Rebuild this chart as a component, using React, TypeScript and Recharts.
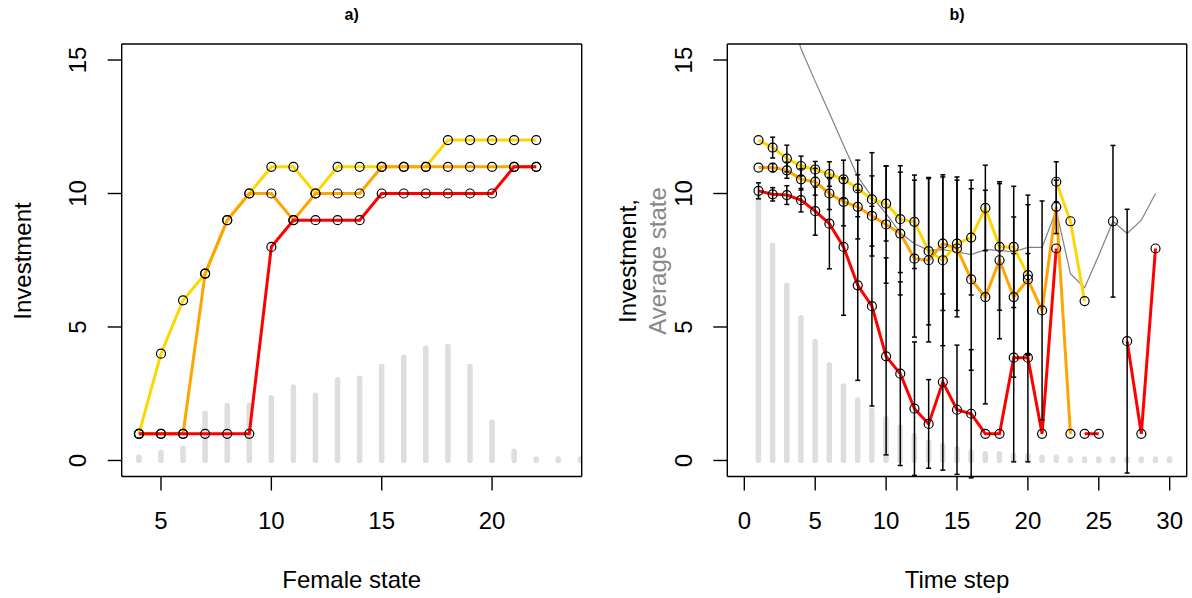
import React from 'react';
import { ComposedChart, Line, Bar, XAxis, YAxis, ErrorBar } from 'recharts';

const FONT = '"Liberation Sans", Arial, Helvetica, sans-serif';

// ---------- Panel a) data ----------
const femaleStates = [4, 5, 6, 7, 8, 9, 10, 11, 12, 13, 14, 15, 16, 17, 18, 19, 20, 21, 22, 23, 24];
const yellowA = [1, 4, 6, 7, 9, 10, 11, 11, 10, 11, 11, 11, 11, 11, 12, 12, 12, 12, 12, null, null];
const orangeA = [1, 1, 1, 7, 9, 10, 10, 9, 10, 10, 10, 11, 11, 11, 11, 11, 11, 11, 11, null, null];
const redA = [1, 1, 1, 1, 1, 1, 8, 9, 9, 9, 9, 10, 10, 10, 10, 10, 10, 11, 11, null, null];
const distA = [0.12, 0.31, 0.46, 1.77, 2.06, 2.06, 2.35, 2.75, 2.44, 3.02, 3.08, 3.52, 3.87, 4.21, 4.27, 3.52, 1.44, 0.35, 0.06, 0.06, 0.06];

// ---------- Panel b) data ----------
const timeSteps = [1, 2, 3, 4, 5, 6, 7, 8, 9, 10, 11, 12, 13, 14, 15, 16, 17, 18, 19, 20, 21, 22, 23, 24, 25, 26, 27, 28, 29, 30];
const yellowB = [12, 11.72, 11.31, 11.03, 10.9, 10.73, 10.53, 10.19, 9.78, 9.62, 9.04, 8.94, 7.84, 7.5, 8.12, 8.35, 9.46, 8.0, 8.0, 6.94, null, 10.44, 8.96, 5.97, null, 8.96, null, null, null, null];
const orangeB = [10.97, 10.97, 10.87, 10.53, 10.44, 10.0, 9.69, 9.5, 9.16, 8.84, 8.5, 7.56, 7.5, 8.12, 7.94, 6.78, 6.12, 7.5, 6.12, 6.78, 5.62, 9.5, 1, null, null, null, null, null, null, null];
const redB = [10.1, 9.97, 9.94, 9.75, 9.34, 8.87, 8.0, 6.56, 5.78, 3.9, 3.25, 1.94, 1.37, 2.94, 1.9, 1.75, 1, 1, 3.85, 3.85, 1, 7.94, null, 1, 1, null, 4.47, 1, 7.94, null];
const yellowErrB = [null, 0.39, 0.5, 0.37, 0.3, 0.46, 0.72, 1.06, 1.75, 1.4, 2.0, 1.75, 2.76, 3.2, 2.5, 2.15, 1.6, 2.37, 2.27, 3.0, null, 0.75, null, null, null, 2.84, null, null, null, null];
const orangeErrB = [null, 0.15, 0.3, 0.4, 0.5, 0.6, 0.9, 1.2, 1.5, 2.2, 2.3, 2.94, 3.06, 2.5, 2.56, 3.4, 4.0, 2.94, 3.0, 2.8, 4.1, 1.0, null, null, null, null, null, null, null, null];
const redErrB = [0.3, 0.25, 0.35, 0.44, 0.9, 1.69, 2.56, 3.56, 3.74, 3.69, 3.44, 2.5, 1.66, 3.3, 2.42, 2.4, null, null, 3.9, 3.9, null, null, null, null, null, null, 4.94, null, null, null];
const avgStateB = [21, 19, 17.06, 15.42, 14.2, 13.02, 11.81, 10.63, 9.87, 9.25, 8.53, 8.12, 7.87, 7.9, 7.81, 7.71, 7.9, 7.87, 7.81, 7.98, 7.98, 9.37, 7.0, 6.47, 7.69, 8.96, 8.5, 9.0, 10.0, null];
const distB = [9.87, 8.06, 6.56, 5.35, 4.46, 3.59, 2.79, 2.27, 1.87, 1.56, 1.25, 0.94, 0.69, 0.56, 0.44, 0.31, 0.25, 0.25, 0.19, 0.19, 0.12, 0.12, 0.06, 0.06, 0.06, 0.06, 0.06, 0.06, 0.06, 0.06];

// ---------- Axis ticks ----------
const xTicksA = [5, 10, 15, 20];
const xTicksB = [0, 5, 10, 15, 20, 25, 30];
const yTicks = [0, 5, 10, 15];

const dataA = femaleStates.map((x, i) => ({
  x,
  dist: distA[i],
  yellow: yellowA[i],
  orange: orangeA[i],
  red: redA[i],
}));

const dataB = timeSteps.map((x, i) => ({
  x,
  dist: distB[i],
  avg: avgStateB[i],
  yellow: yellowB[i],
  orange: orangeB[i],
  red: redB[i],
  yellowErr: yellowErrB[i],
  orangeErr: orangeErrB[i],
  redErr: redErrB[i],
}));

const YELLOW = '#FFD700';
const ORANGE = '#FFA500';
const RED = '#FF0000';
const BARGRAY = '#dedede';
const AXIS = '#000';
const FS = 24;

const StickShape = (props: any) => {
  const { x, y, width, height } = props;
  if (x == null || y == null || height == null || !(height > 0)) return null;
  const cx = x + width / 2;
  return (
    <line x1={cx} x2={cx} y1={y} y2={y + height} stroke={BARGRAY} strokeWidth={5.5} strokeLinecap="round" />
  );
};

const XTick = (props: any) => {
  const { x, y, payload } = props;
  return (
    <text x={x} y={y + 30} textAnchor="middle" dominantBaseline="central" fontSize={FS} fontFamily={FONT} fill="#000">
      {payload.value}
    </text>
  );
};

const YTick = (props: any) => {
  const { x, y, payload } = props;
  const tx = x - 30;
  return (
    <text x={tx} y={y} transform={`rotate(-90 ${tx} ${y})`} textAnchor="middle" dominantBaseline="central" fontSize={FS} fontFamily={FONT} fill="#000">
      {payload.value}
    </text>
  );
};

const dotStyle = { r: 4.5, stroke: '#000', strokeWidth: 1.2, fill: 'none' };
const Y_DOMAIN: [number, number] = [-0.6, 15.6];
const lineStyle = { stroke: AXIS, strokeWidth: 1.4 };

function PanelA() {
  return (
    <ComposedChart width={600} height={598} data={dataA} margin={{ top: 24, right: 8.3, bottom: 61.5, left: 61.7 }}>
      <XAxis type="number" dataKey="x" domain={[3.22, 24.06]} ticks={xTicksA} interval={0} allowDataOverflow height={60}
        tickSize={14} tickMargin={0} tick={<XTick />} axisLine={lineStyle} tickLine={lineStyle} />
      <XAxis xAxisId="top" orientation="top" type="number" dataKey="x" domain={[3.22, 24.06]} allowDataOverflow height={20}
        tick={false} tickLine={false} axisLine={lineStyle} />
      <YAxis type="number" domain={Y_DOMAIN} ticks={yTicks} interval={0} allowDataOverflow width={60}
        tickSize={14} tickMargin={0} tick={<YTick />} axisLine={lineStyle} tickLine={lineStyle} />
      <YAxis yAxisId="right" orientation="right" type="number" domain={Y_DOMAIN} allowDataOverflow width={10}
        tick={false} tickLine={false} axisLine={lineStyle} />
      <Bar dataKey="dist" barSize={6} shape={<StickShape />} isAnimationActive={false} />
      <Line type="linear" dataKey="yellow" stroke={YELLOW} strokeWidth={3} dot={dotStyle} activeDot={false} isAnimationActive={false} />
      <Line type="linear" dataKey="orange" stroke={ORANGE} strokeWidth={3} dot={dotStyle} activeDot={false} isAnimationActive={false} />
      <Line type="linear" dataKey="red" stroke={RED} strokeWidth={3} dot={dotStyle} activeDot={false} isAnimationActive={false} />
    </ComposedChart>
  );
}

function PanelB() {
  const eb = { width: 2.5, strokeWidth: 1.5, stroke: '#000', direction: 'y' as const, isAnimationActive: false };
  return (
    <ComposedChart width={592} height={598} data={dataB} margin={{ top: 24, right: 0.3, bottom: 61.5, left: 67.3 }}>
      <XAxis type="number" dataKey="x" domain={[-1.2, 31.2]} ticks={xTicksB} interval={0} allowDataOverflow height={60}
        tickSize={14} tickMargin={0} tick={<XTick />} axisLine={lineStyle} tickLine={lineStyle} />
      <XAxis xAxisId="top" orientation="top" type="number" dataKey="x" domain={[-1.2, 31.2]} allowDataOverflow height={20}
        tick={false} tickLine={false} axisLine={lineStyle} />
      <YAxis type="number" domain={Y_DOMAIN} ticks={yTicks} interval={0} allowDataOverflow width={60}
        tickSize={14} tickMargin={0} tick={<YTick />} axisLine={lineStyle} tickLine={lineStyle} />
      <YAxis yAxisId="right" orientation="right" type="number" domain={Y_DOMAIN} allowDataOverflow width={5}
        tick={false} tickLine={false} axisLine={lineStyle} />
      <Bar dataKey="dist" barSize={6} shape={<StickShape />} isAnimationActive={false} />
      <Line type="linear" dataKey="avg" stroke="#808080" strokeWidth={1.2} dot={false} activeDot={false} isAnimationActive={false} />
      <Line type="linear" dataKey="yellow" stroke={YELLOW} strokeWidth={3} dot={dotStyle} activeDot={false} isAnimationActive={false} />
      <Line type="linear" dataKey="orange" stroke={ORANGE} strokeWidth={3} dot={dotStyle} activeDot={false} isAnimationActive={false} />
      <Line type="linear" dataKey="red" stroke={RED} strokeWidth={3} dot={dotStyle} activeDot={false} isAnimationActive={false} />
      <Line type="linear" dataKey="yellow" stroke="none" dot={false} activeDot={false} isAnimationActive={false} legendType="none">
        <ErrorBar dataKey="yellowErr" {...eb} />
      </Line>
      <Line type="linear" dataKey="orange" stroke="none" dot={false} activeDot={false} isAnimationActive={false} legendType="none">
        <ErrorBar dataKey="orangeErr" {...eb} />
      </Line>
      <Line type="linear" dataKey="red" stroke="none" dot={false} activeDot={false} isAnimationActive={false} legendType="none">
        <ErrorBar dataKey="redErr" {...eb} />
      </Line>
    </ComposedChart>
  );
}

export default function App() {
  return (
    <div style={{ position: 'absolute', left: 0, top: 0, width: 1192, height: 598, background: '#fff', overflow: 'hidden' }}>
      <div style={{ position: 'absolute', left: 0, top: 0 }}>
        <PanelA />
      </div>
      <div style={{ position: 'absolute', left: 600, top: 0 }}>
        <PanelB />
      </div>
      <svg width={1192} height={598} style={{ position: 'absolute', left: 0, top: 0, pointerEvents: 'none' }}>
        <g fontFamily={FONT} fill="#000">
          <text x={351.7} y={14} textAnchor="middle" dominantBaseline="central" fontSize={16} fontWeight="bold">a)</text>
          <text x={957} y={14} textAnchor="middle" dominantBaseline="central" fontSize={16} fontWeight="bold">b)</text>
          <text x={351.7} y={579} textAnchor="middle" dominantBaseline="central" fontSize={FS}>Female state</text>
          <text x={957} y={579} textAnchor="middle" dominantBaseline="central" fontSize={FS}>Time step</text>
          <text x={22} y={261} transform="rotate(-90 22 261)" textAnchor="middle" dominantBaseline="central" fontSize={FS}>Investment</text>
          <text x={627} y={261} transform="rotate(-90 627 261)" textAnchor="middle" dominantBaseline="central" fontSize={FS}>Investment,</text>
          <text x={657} y={261} transform="rotate(-90 657 261)" textAnchor="middle" dominantBaseline="central" fontSize={FS} fill="#888">Average state</text>
        </g>
      </svg>
    </div>
  );
}
